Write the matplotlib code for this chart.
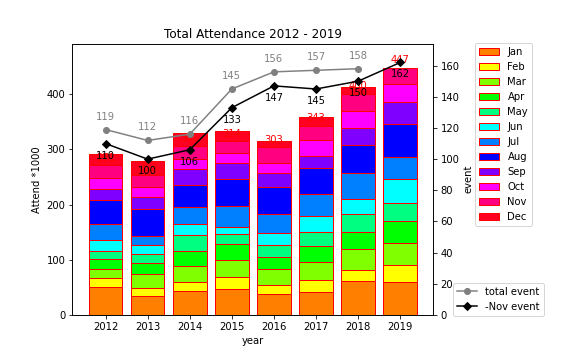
import numpy as np
import matplotlib as mpl
mpl.use('Agg')
import matplotlib.pyplot as plt

years = [2012, 2013, 2014, 2015, 2016, 2017, 2018, 2019]
months = ['Jan', 'Feb', 'Mar', 'Apr', 'May', 'Jun',
          'Jul', 'Aug', 'Sep', 'Oct', 'Nov', 'Dec']

# attendance per month (*1000), one row per year
attend = [
    [50.0, 16.4, 16.3, 18.1, 15.6, 18.8, 28.9, 43.5, 21.0, 18.8, 23.6, 19.9],  # 2012
    [33.8, 14.5, 25.3, 19.9, 16.4, 16.3, 16.2, 50.0, 21.7, 17.0, 21.7, 26.5],  # 2013
    [42.9, 16.3, 28.9, 27.2, 29.0, 19.9, 30.7, 40.9, 29.0, 17.0, 24.2, 24.0],  # 2014
    [46.5, 21.7, 30.8, 29.0, 18.0, 12.7, 38.0, 50.0, 27.9, 18.1, 21.7, 19.2],  # 2015
    [37.4, 16.4, 28.9, 21.7, 21.7, 22.9, 33.2, 50.0, 25.3, 18.1, 27.8, 12.1],  # 2016
    [42.2, 20.6, 33.7, 28.9, 25.4, 28.9, 38.8, 47.0, 22.9, 27.8, 26.8, 15.9],  # 2017
    [61.5, 19.4, 38.0, 31.9, 31.4, 28.3, 46.0, 51.8, 29.7, 30.7, 31.3, 13.2],  # 2018
    [59.2, 30.8, 39.8, 40.9, 32.6, 42.3, 40.9, 59.7, 39.8, 31.5, 29.2, 0.0],   # 2019
]

total_event = [119, 112, 116, 145, 156, 157, 158]
nov_event = [110, 100, 106, 133, 147, 145, 150, 162]

colors = ['#ff8000', '#ffff00', '#80ff00', '#00ff00', '#00ff80', '#00ffff',
          '#0080ff', '#0000ff', '#8000ff', '#ff00ff', '#ff0080', '#ff0020']

data = np.array(attend)

fig = plt.figure(figsize=(8, 5), dpi=72)
ax = fig.add_axes([0.1255, 0.125, 0.627, 0.754])

bottom = np.zeros(len(years))
for i, m in enumerate(months):
    ax.bar(years, data[:, i], 0.8, bottom, color=colors[i],
           edgecolor='red', linewidth=1, label=m)
    bottom += data[:, i]

nov_sum = data[:, :11].sum(axis=1)
for x, v in zip(years, nov_sum):
    ax.text(x, v + 5, '%d' % int(v + 0.5), color='red', ha='center',
            va='bottom', fontsize=10)

ax.set_ylim(0, data.sum(axis=1).max() * 1.1)
ax.set_xticks(years)
ax.set_xlabel('year')
ax.set_ylabel('Attend *1000')
ax.set_title('Total Attendance 2012 - 2019')
ax.legend(loc='upper left', bbox_to_anchor=(1.1025, 1.02), fontsize=10)

ax2 = ax.twinx()
ax2.plot(years[:len(total_event)], total_event, color='gray', marker='o',
         markersize=6, label='total event')
ax2.plot(years, nov_event, color='black', marker='D', markersize=6,
         label='-Nov event')
for x, v in zip(years, total_event):
    ax2.annotate('%d' % v, (x, v), xytext=(0, 8), textcoords='offset points',
                 ha='center', va='bottom', color='gray', fontsize=10)
for x, v in zip(years, nov_event):
    ax2.annotate('%d' % v, (x, v), xytext=(0, -7), textcoords='offset points',
                 ha='center', va='top', color='black', fontsize=10)
ax2.set_ylim(0, max(nov_event) * 1.075)
ax2.set_ylabel('event')
ax2.legend(loc='lower left', bbox_to_anchor=(1.0415, -0.022), fontsize=10)

fig.savefig('out.png')
